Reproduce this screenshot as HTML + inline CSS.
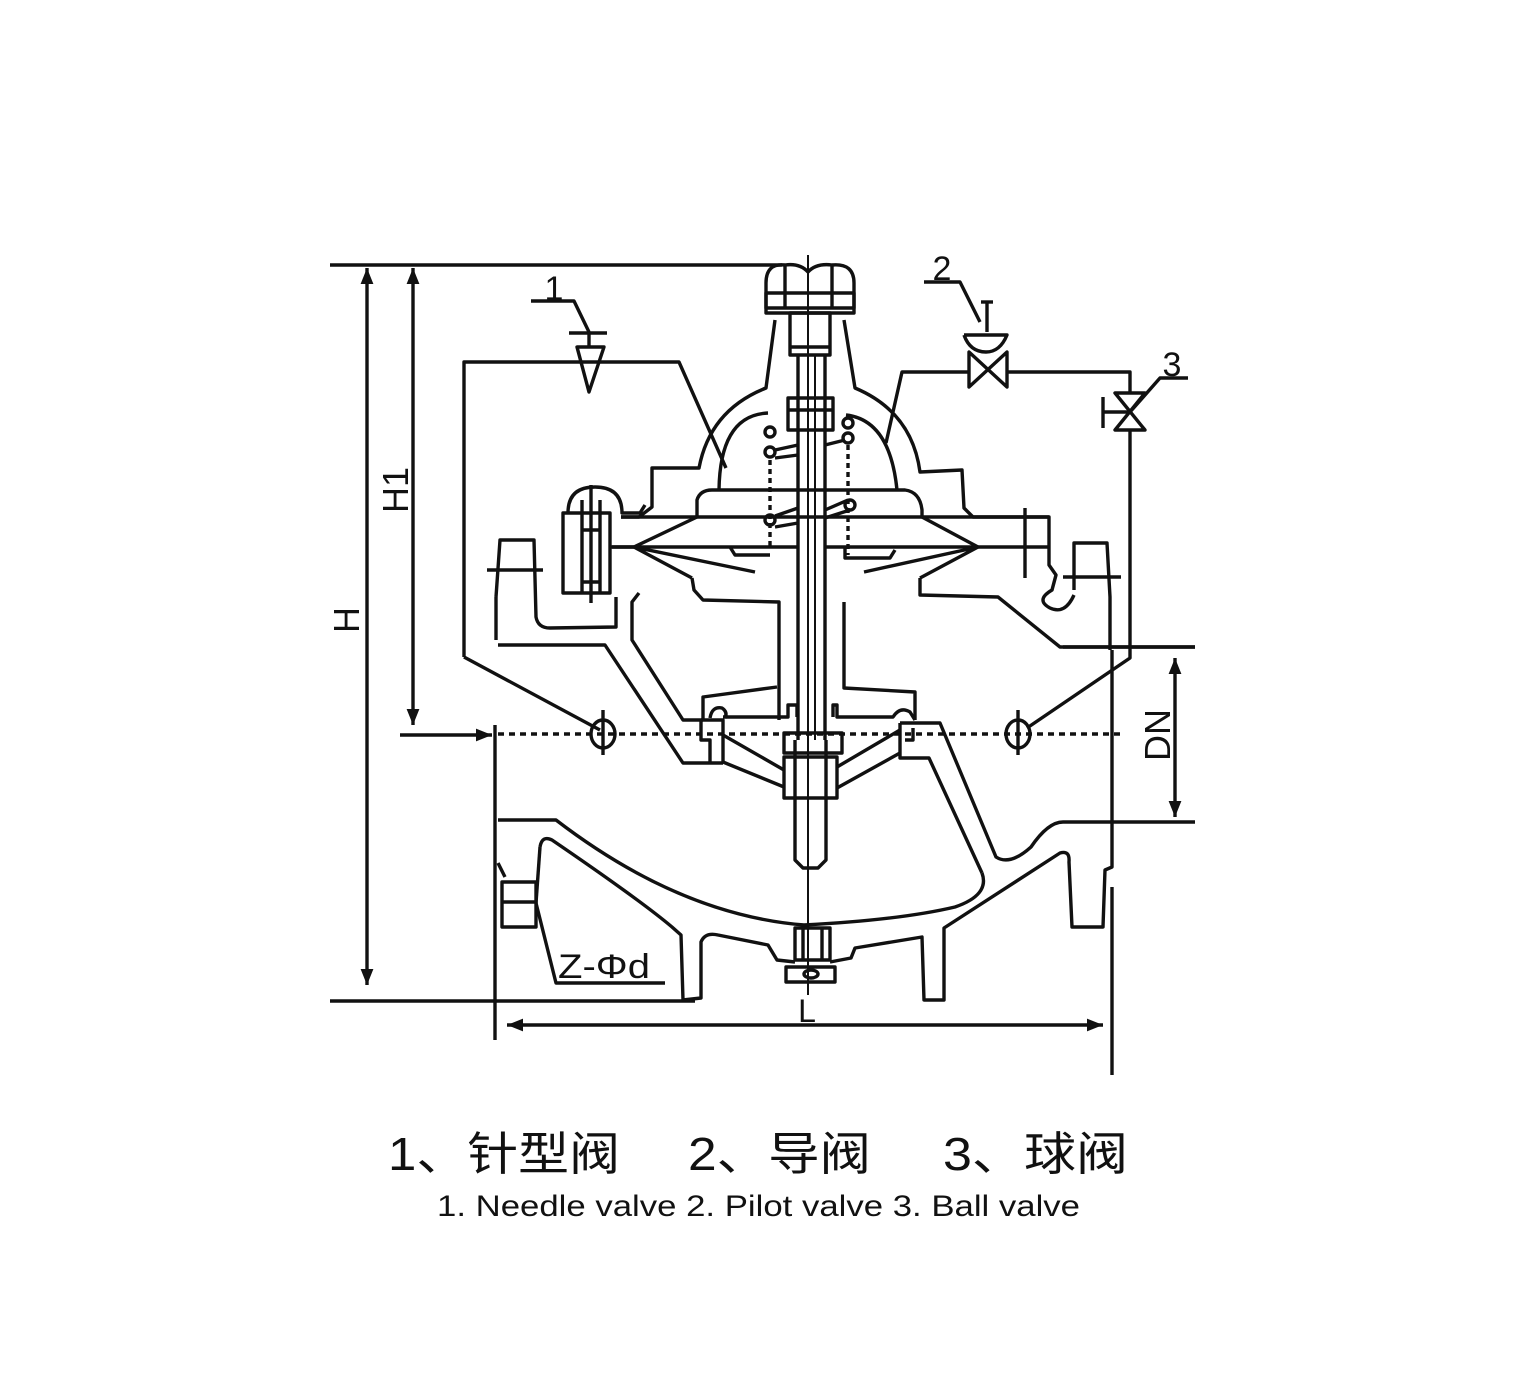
<!DOCTYPE html>
<html><head><meta charset="utf-8"><style>
html,body{margin:0;padding:0;background:#fff}
svg{display:block}
text{font-family:"Liberation Sans","Noto Sans CJK SC",sans-serif;fill:#111}
</style></head><body>
<svg width="1525" height="1381" viewBox="0 0 1525 1381" xmlns="http://www.w3.org/2000/svg">
<defs>
<marker id="b" viewBox="0 0 10 10" refX="10" refY="5" markerWidth="16" markerHeight="16" orient="auto-start-reverse" markerUnits="userSpaceOnUse"><path d="M0,1 L10,5 L0,9z" fill="#111"/></marker>
</defs>
<g fill="none" stroke="#111" stroke-width="3.4" stroke-linejoin="round">
<line x1="330" y1="265" x2="782" y2="265"/>
<line x1="330" y1="1001" x2="695" y2="1001"/>
<line x1="367" y1="268" x2="367" y2="985" marker-start="url(#b)" marker-end="url(#b)"/>
<line x1="413" y1="268" x2="413" y2="725" marker-start="url(#b)" marker-end="url(#b)"/>
<line x1="400" y1="735" x2="492" y2="735" marker-end="url(#b)"/>
<line x1="495" y1="725" x2="495" y2="1040"/>
<line x1="1112" y1="887" x2="1112" y2="1075"/>
<line x1="507" y1="1025" x2="1103" y2="1025" marker-start="url(#b)" marker-end="url(#b)"/>
<line x1="1175" y1="658" x2="1175" y2="817" marker-start="url(#b)" marker-end="url(#b)"/>
<line x1="1063" y1="647" x2="1195" y2="647"/>
<line x1="1063" y1="822" x2="1195" y2="822"/>
<line x1="498" y1="734" x2="1125" y2="734" stroke-dasharray="6,5"/>
<path d="M766,308 L766,283 Q766,263 785,265 Q800,263 808,272 Q816,263 832,265 Q854,263 854,283 L854,308 Z"/>
<line x1="785" y1="266" x2="785" y2="308"/><line x1="832" y1="266" x2="832" y2="308"/>
<rect x="766" y="293" width="88" height="20"/>
<line x1="808" y1="255" x2="808" y2="995" stroke-width="2"/>
<rect x="790" y="313" width="40" height="42"/>
<line x1="790" y1="347" x2="830" y2="347"/>
<line x1="798" y1="355" x2="798" y2="740"/><line x1="825" y1="355" x2="825" y2="740"/>
<line x1="815" y1="355" x2="815" y2="740" stroke-width="2"/>
<path d="M775,320 L766,388 Q710,410 699,468 L652,468 L652,507 L639,517 L621,517"/>
<path d="M844,320 L855,388 Q912,412 920,472 L962,470 L964,508 L973,517 L1049,517 L1049,550"/>
<path d="M719,490 Q720,415 768,413"/>
<path d="M846,415 Q890,420 897,490"/>
<rect x="788" y="398" width="45" height="32"/>
<line x1="788" y1="410" x2="833" y2="410"/>
<circle cx="770" cy="432" r="5"/><circle cx="770" cy="452" r="5"/><circle cx="848" cy="423" r="5"/><circle cx="848" cy="438" r="5"/>
<circle cx="850" cy="505" r="5"/><circle cx="770" cy="520" r="5"/>
<line x1="775" y1="450" x2="798" y2="445"/><line x1="775" y1="458" x2="798" y2="455"/>
<line x1="825" y1="445" x2="845" y2="440"/><line x1="775" y1="516" x2="798" y2="508"/><line x1="775" y1="527" x2="798" y2="523"/>
<line x1="825" y1="510" x2="848" y2="500"/><line x1="825" y1="518" x2="850" y2="510"/>
<line x1="770" y1="460" x2="770" y2="550" stroke-dasharray="5,4"/>
<line x1="848" y1="445" x2="848" y2="555" stroke-dasharray="5,4"/>
<path d="M697,517 L697,500 Q700,490 712,490 L905,490 Q920,492 922,510 L922,517"/>
<line x1="621" y1="517" x2="1049" y2="517"/>
<line x1="612" y1="547" x2="798" y2="547"/><line x1="825" y1="547" x2="1049" y2="547"/>
<path d="M697,517 L634,547 L692,578 M634,547 L755,572"/>
<path d="M922,517 L978,547 L920,578 M978,547 L864,572"/>
<path d="M730,547 L735,555 L770,555 M845,547 L845,558 L890,558 L895,550"/>
<path d="M692,578 L694,590 L703,600 L779,602 L779,720"/>
<path d="M920,578 L920,595 L998,597 L1060,647 L1195,647"/>
<path d="M639,593 L632,602 L632,640 L683,720 L703,720"/>
<path d="M844,602 L844,688 L915,692 L915,720"/>
<path d="M703,720 L703,697 L777,687"/>
<path d="M496,597 L500,540 L534,540 L536,617 Q538,628 550,628 L616,627 L616,597"/>
<line x1="496" y1="597" x2="496" y2="640"/>
<line x1="487" y1="570" x2="543" y2="570"/>
<rect x="563" y="513" width="47" height="80"/>
<path d="M568,513 Q568,487 595,487 Q622,487 622,513 L640,513 L645,505"/>
<line x1="582" y1="500" x2="582" y2="593"/><line x1="600" y1="500" x2="600" y2="593"/>
<line x1="591" y1="485" x2="591" y2="603"/>
<line x1="582" y1="582" x2="600" y2="582"/><line x1="582" y1="530" x2="600" y2="530"/>
<line x1="610" y1="547" x2="634" y2="547"/>
<path d="M1074,590 L1074,543 L1107,543 L1110,597 L1110,650"/>
<line x1="1063" y1="577" x2="1121" y2="577"/>
<path d="M1049,550 L1049,565 L1056,575 L1052,590 Q1035,600 1050,608 Q1065,615 1074,595"/>
<line x1="1025" y1="508" x2="1025" y2="578"/>
<path d="M498,645 L605,645 L683,763 L723,763"/>
<path d="M701,720 L723,720 L723,763 M701,720 L701,740 L710,740 L710,763"/>
<path d="M710,718 Q712,706 722,708 Q728,712 725,718"/>
<path d="M723,717 L788,717 L788,705 L797,705 L797,717 M833,717 L833,705 L837,705 L837,717 L893,717 Q900,706 910,712 L915,720"/>
<path d="M900,723 L940,723 L996,857 Q1010,866 1031,847 Q1048,822 1063,822"/>
<path d="M900,723 L900,758 L929,758 L982,873"/>
<path d="M913,728 L913,740 L905,740"/>
<path d="M498,820 L556,820 Q680,915 804,925 Q900,920 955,907 Q990,895 982,873"/>
<path d="M540,847 Q542,835 552,840 Q640,900 672,927 L681,935 L683,1000 L701,998 L701,942 Q705,932 718,935 L768,945 L777,960 L795,962"/>
<path d="M830,962 L851,958 L855,948 L922,937 L924,1000 L944,1000 L944,928 L1060,853 Q1070,850 1069,862 L1072,927 L1103,927 L1105,870 L1112,867 L1112,650"/>
<path d="M498,863 L505,877"/>
<rect x="502" y="882" width="34" height="45"/>
<line x1="502" y1="902" x2="536" y2="902"/>
<path d="M536,903 L556,983 L665,983"/>
<path d="M540,847 L536,903"/>
<rect x="784" y="733" width="58" height="20"/>
<rect x="784" y="757" width="53" height="41"/>
<path d="M795,740 L795,860 L803,868 L818,868 L826,860 L826,740"/>
<path d="M723,735 L784,770 M723,762 L784,787 M900,730 L837,767 M900,753 L837,788"/>
<rect x="795" y="928" width="35" height="32"/>
<line x1="803" y1="928" x2="803" y2="960"/><line x1="822" y1="928" x2="822" y2="960"/>
<rect x="786" y="967" width="49" height="15"/>
<ellipse cx="811" cy="974" rx="7" ry="4"/>
<path d="M464,657 L464,362 L679,362 L726,468"/>
<path d="M464,657 L600,730"/>
<ellipse cx="603" cy="734" rx="12" ry="14"/>
<line x1="603" y1="710" x2="603" y2="755"/>
<ellipse cx="1018" cy="734" rx="12" ry="14"/>
<line x1="1018" y1="710" x2="1018" y2="755"/>
<path d="M1027,728 L1130,658 L1130,430"/>
<path d="M531,301 L574,301 L589,332"/>
<line x1="569" y1="333" x2="607" y2="333"/>
<line x1="589" y1="333" x2="589" y2="347"/>
<path d="M577,347 L604,347 L589,392 Z"/>
<path d="M924,282 L960,282 L980,322"/>
<line x1="987" y1="302" x2="987" y2="332"/>
<line x1="981" y1="302" x2="993" y2="302"/>
<path d="M964,335 L1007,335 Q1000,352 986,352 Q970,352 964,335"/>
<path d="M969,352 L969,387 L1007,352 L1007,387 Z"/>
<path d="M886,443 L902,372 L969,372"/>
<path d="M1007,372 L1130,372 L1130,393"/>
<path d="M1115,393 L1145,393 L1115,430 L1145,430 Z"/>
<line x1="1103" y1="412" x2="1130" y2="412"/>
<line x1="1103" y1="397" x2="1103" y2="428"/>
<path d="M1130,412 L1160,378 L1188,378"/>
</g>
<text x="554" y="300" font-size="34" text-anchor="middle">1</text>
<text x="942" y="280" font-size="34" text-anchor="middle">2</text>
<text x="1172" y="376" font-size="34" text-anchor="middle">3</text>
<text transform="translate(408,490) rotate(-90)" font-size="36" text-anchor="middle">H1</text>
<text transform="translate(359,620) rotate(-90)" font-size="36" text-anchor="middle">H</text>
<text transform="translate(1170,735) rotate(-90)" font-size="36" text-anchor="middle">DN</text>
<text x="807" y="1022" font-size="32" text-anchor="middle">L</text>
<text x="558" y="978" font-size="34" textLength="92" lengthAdjust="spacingAndGlyphs">Z-Φd</text>
<text x="388" y="1170" font-size="46" textLength="232" lengthAdjust="spacingAndGlyphs">1、针型阀</text>
<text x="688" y="1170" font-size="46" textLength="183" lengthAdjust="spacingAndGlyphs">2、导阀</text>
<text x="943" y="1170" font-size="46" textLength="185" lengthAdjust="spacingAndGlyphs">3、球阀</text>
<text x="437" y="1216" font-size="30" textLength="643" lengthAdjust="spacingAndGlyphs">1. Needle valve 2. Pilot valve 3. Ball valve</text>
</svg>
</body></html>
